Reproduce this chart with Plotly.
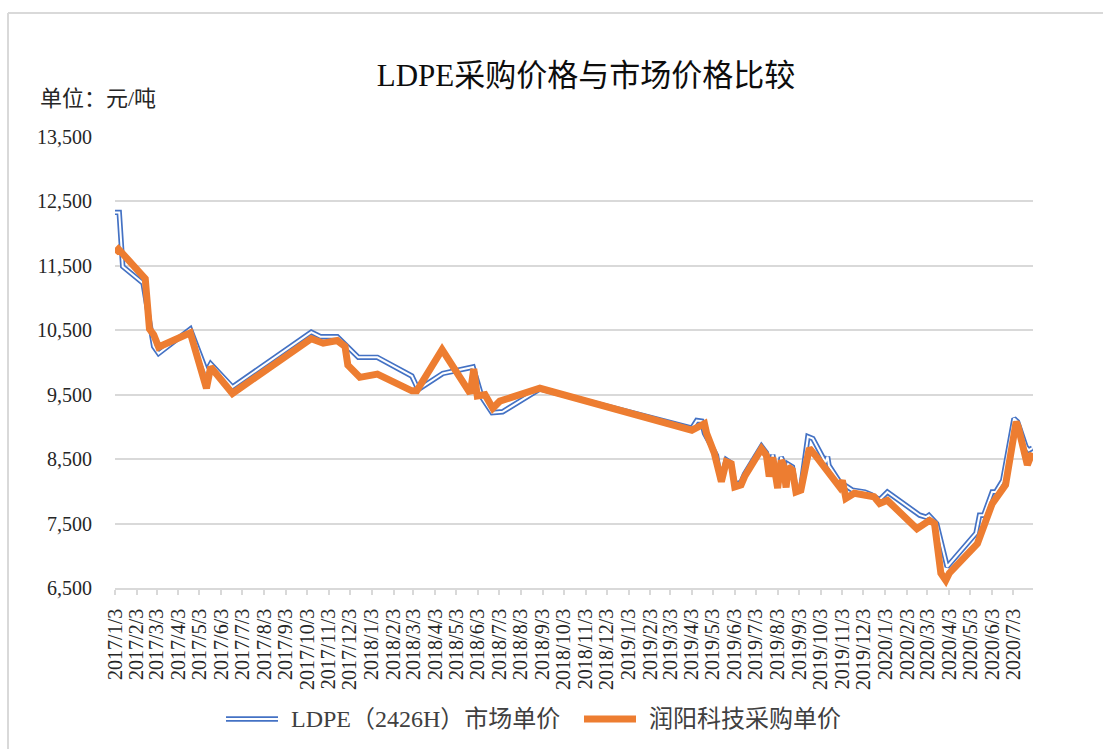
import pandas as pd
import plotly.graph_objects as go

# LDPE (2426H) market price, yuan per ton
market_dates = [
    "2017-01-03", "2017-01-09", "2017-01-14", "2017-02-12", "2017-02-27", "2017-03-06",
    "2017-04-20", "2017-05-13", "2017-05-19", "2017-06-19", "2017-10-09", "2017-10-22",
    "2017-11-15", "2017-12-03", "2017-12-15", "2018-01-11", "2018-03-01", "2018-03-10",
    "2018-04-14", "2018-05-27", "2018-06-09", "2018-06-23", "2018-07-08", "2018-08-30",
    "2019-04-03", "2019-04-10", "2019-04-17", "2019-04-21", "2019-05-08", "2019-05-14",
    "2019-05-22", "2019-05-29", "2019-06-03", "2019-06-12", "2019-06-17", "2019-07-11",
    "2019-07-18", "2019-07-22", "2019-07-27", "2019-08-03", "2019-08-08", "2019-08-11",
    "2019-08-15", "2019-08-18", "2019-08-24", "2019-08-29", "2019-09-05", "2019-09-15",
    "2019-09-22", "2019-10-10", "2019-10-13", "2019-10-15", "2019-10-30", "2019-11-17",
    "2019-12-05", "2019-12-14", "2019-12-26", "2020-01-06", "2020-02-21", "2020-03-01",
    "2020-03-05", "2020-03-16", "2020-03-31", "2020-05-11", "2020-05-16", "2020-05-22",
    "2020-06-03", "2020-06-08", "2020-06-18", "2020-07-04", "2020-07-09", "2020-07-21",
    "2020-07-25", "2020-07-30",
]
market_prices = [
    12330, 12330, 11490, 11230, 10250, 10140,
    10520, 9860, 9980, 9620, 10470, 10400,
    10400, 10200, 10080, 10080, 9790, 9580,
    9830, 9930, 9450, 9220, 9235, 9590,
    8980, 9100, 9090, 8900, 8560, 8170,
    8490, 8440, 8110, 8140, 8270, 8700,
    8600, 8280, 8570, 8100, 8530, 8460,
    8100, 8420, 8380, 8030, 8060, 8850,
    8820, 8450, 8540, 8400, 8150, 8020,
    7990, 7950, 7870, 7990, 7630, 7600,
    7630, 7500, 6830, 7350, 7630, 7630,
    7990, 7990, 8170, 9130, 9080, 8690,
    8640, 8670,
]

# Runyang Technology purchase price, yuan per ton
purchase_dates = [
    "2017-01-03", "2017-01-08", "2017-02-15", "2017-02-21", "2017-02-27", "2017-03-06",
    "2017-04-20", "2017-05-13", "2017-05-19", "2017-06-19", "2017-10-09", "2017-10-26",
    "2017-11-15", "2017-11-26", "2017-11-30", "2017-12-17", "2018-01-11", "2018-03-01",
    "2018-03-08", "2018-04-13", "2018-05-23", "2018-05-28", "2018-06-02", "2018-06-13",
    "2018-06-24", "2018-07-04", "2018-08-30", "2019-04-03", "2019-04-21", "2019-04-24",
    "2019-05-05", "2019-05-15", "2019-05-22", "2019-05-29", "2019-06-03", "2019-06-12",
    "2019-06-17", "2019-07-11", "2019-07-18", "2019-07-22", "2019-07-27", "2019-08-03",
    "2019-08-08", "2019-08-11", "2019-08-15", "2019-08-18", "2019-08-24", "2019-08-29",
    "2019-09-05", "2019-09-17", "2019-09-27", "2019-10-13", "2019-10-30", "2019-11-03",
    "2019-11-08", "2019-11-20", "2019-12-07", "2019-12-18", "2019-12-26", "2020-01-06",
    "2020-02-17", "2020-03-06", "2020-03-13", "2020-03-22", "2020-03-29", "2020-04-03",
    "2020-05-13", "2020-06-03", "2020-06-22", "2020-07-07", "2020-07-10", "2020-07-23",
    "2020-07-30",
]
purchase_prices = [
    11700, 11760, 11300, 10520, 10430, 10240,
    10460, 9600, 9930, 9520, 10370, 10300,
    10340, 10250, 9960, 9770, 9820, 9560,
    9560, 10200, 9520, 9900, 9480, 9500,
    9290, 9400, 9600, 8950, 9050, 8900,
    8590, 8150, 8460, 8430, 8070, 8100,
    8230, 8660, 8560, 8230, 8530, 8050,
    8480, 8420, 8060, 8380, 8330, 7990,
    8020, 8670, 8540, 8300, 8070, 8170,
    7890, 7970, 7940, 7915, 7810, 7860,
    7420, 7550, 7500, 6730, 6620, 6730,
    7190, 7810, 8100, 9080, 9000, 8410,
    8600,
]

month_labels = [
    "2017/1/3", "2017/2/3", "2017/3/3", "2017/4/3", "2017/5/3", "2017/6/3",
    "2017/7/3", "2017/8/3", "2017/9/3", "2017/10/3", "2017/11/3", "2017/12/3",
    "2018/1/3", "2018/2/3", "2018/3/3", "2018/4/3", "2018/5/3", "2018/6/3",
    "2018/7/3", "2018/8/3", "2018/9/3", "2018/10/3", "2018/11/3", "2018/12/3",
    "2019/1/3", "2019/2/3", "2019/3/3", "2019/4/3", "2019/5/3", "2019/6/3",
    "2019/7/3", "2019/8/3", "2019/9/3", "2019/10/3", "2019/11/3", "2019/12/3",
    "2020/1/3", "2020/2/3", "2020/3/3", "2020/4/3", "2020/5/3", "2020/6/3",
    "2020/7/3",
]
price_ticks = [6500, 7500, 8500, 9500, 10500, 11500, 12500, 13500]

market_name = "LDPE（2426H）市场单价"
purchase_name = "润阳科技采购单价"
title_text = "LDPE采购价格与市场价格比较"
unit_text = "单位：元/吨"

BLUE = "#4472C4"
ORANGE = "#ED7D31"
GRID = "#D9D9D9"
TEXT = "#262626"
FONT = "Liberation Serif, Noto Sans CJK SC, serif"

W, H = 1103, 749
L, R, T, B = 115, 70, 137, 161
plot_w = W - L - R
plot_h = H - T - B


def px(x):
    """Page pixel column -> paper x."""
    return (x - L) / plot_w


def py(y):
    """Page pixel row -> paper y."""
    return (H - B - y) / plot_h


tick_dates = [pd.to_datetime(s, format="%Y/%m/%d") for s in month_labels]
mx = pd.to_datetime(market_dates)
ox = pd.to_datetime(purchase_dates)

fig = go.Figure()
# market price drawn as a hollow double line: wide blue under a thin white core
fig.add_trace(go.Scatter(x=mx, y=market_prices, mode="lines", name=market_name,
                         line=dict(color=BLUE, width=5.4), hoverinfo="skip"))
fig.add_trace(go.Scatter(x=mx, y=market_prices, mode="lines", name=market_name,
                         line=dict(color="white", width=2), hoverinfo="skip"))
fig.add_trace(go.Scatter(x=ox, y=purchase_prices, mode="lines", name=purchase_name,
                         line=dict(color=ORANGE, width=7)))

fig.update_layout(
    width=W, height=H,
    margin=dict(l=L, r=R, t=T, b=B, autoexpand=False),
    paper_bgcolor="white", plot_bgcolor="white",
    showlegend=False,
    font=dict(family=FONT, color=TEXT),
    title=dict(text=title_text, xref="container", yref="container",
               x=586 / W, y=1 - 75 / H, xanchor="center", yanchor="middle",
               font=dict(size=31, color="#0d0d0d", family=FONT)),
)
fig.update_xaxes(
    type="date", range=["2017-01-03", "2020-07-31"],
    tickmode="array", tickvals=tick_dates, ticktext=month_labels,
    tickangle=-90, tickfont=dict(size=20, color=TEXT, family=FONT),
    ticks="outside", ticklen=5, tickcolor=GRID, tickwidth=1.5,
    showline=True, linecolor=GRID, linewidth=1.5,
    showgrid=False, zeroline=False, ticklabelstandoff=6,
)
fig.update_yaxes(
    range=[6500, 13500], tickmode="array", tickvals=price_ticks, tickformat=",",
    tickfont=dict(size=20, color=TEXT, family=FONT),
    showgrid=True, gridcolor=GRID, gridwidth=1.5,
    zeroline=False, showline=False, ticks="", ticklabelstandoff=22,
)

shapes = [
    # chart frame (left and top edges)
    dict(type="line", xref="paper", yref="paper", x0=px(8), x1=px(8), y0=py(13), y1=py(H + 5),
         line=dict(color=GRID, width=2)),
    dict(type="line", xref="paper", yref="paper", x0=px(8), x1=px(W + 5), y0=py(13), y1=py(13),
         line=dict(color=GRID, width=2)),
    # legend swatches
    dict(type="line", xref="paper", yref="paper", x0=px(226), x1=px(278), y0=py(719), y1=py(719),
         line=dict(color=BLUE, width=5.5)),
    dict(type="line", xref="paper", yref="paper", x0=px(226), x1=px(278), y0=py(719), y1=py(719),
         line=dict(color="white", width=2)),
    dict(type="line", xref="paper", yref="paper", x0=px(584), x1=px(636), y0=py(719), y1=py(719),
         line=dict(color=ORANGE, width=7)),
]
annotations = [
    dict(text=unit_text, xref="paper", yref="paper", x=px(38), y=py(98),
         xanchor="left", yanchor="middle", showarrow=False,
         font=dict(size=22, color=TEXT, family=FONT)),
    dict(text=market_name, xref="paper", yref="paper", x=px(289), y=py(719),
         xanchor="left", yanchor="middle", showarrow=False,
         font=dict(size=24, color="#404040", family=FONT)),
    dict(text=purchase_name, xref="paper", yref="paper", x=px(647), y=py(719),
         xanchor="left", yanchor="middle", showarrow=False,
         font=dict(size=24, color="#404040", family=FONT)),
]
fig.update_layout(shapes=shapes, annotations=annotations)

fig.write_html("out.html")
